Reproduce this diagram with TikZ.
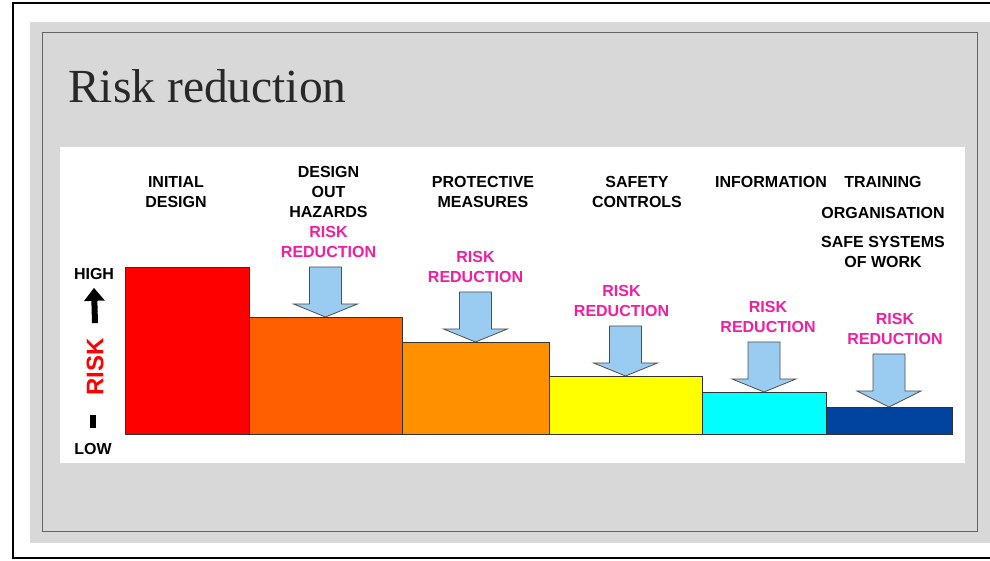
\documentclass[tikz,border=0pt]{standalone}
\usepackage{fontspec}
\setsansfont{Liberation Sans}
\newfontfamily\titlefont{Liberation Serif}
\usetikzlibrary{positioning,arrows.meta}

\definecolor{slidegray}{RGB}{216,216,216}
\definecolor{framegray}{RGB}{100,100,100}
\definecolor{titlegray}{RGB}{40,40,40}
\definecolor{barline}{RGB}{50,50,50}
\definecolor{barred}{RGB}{255,0,0}
\definecolor{barorange}{RGB}{255,95,0}
\definecolor{baramber}{RGB}{255,145,0}
\definecolor{baryellow}{RGB}{255,255,0}
\definecolor{barcyan}{RGB}{0,255,255}
\definecolor{barblue}{RGB}{0,68,160}
\definecolor{arrowblue}{RGB}{153,204,240}
\definecolor{arrowline}{RGB}{80,80,80}
\definecolor{riskpink}{RGB}{240,30,160}

\tikzset{
  bar/.style={draw=barline, line width=0.8pt, anchor=south west, inner sep=0pt, outer sep=0pt},
  stage/.style={font=\sffamily\bfseries\fontsize{16}{20}\selectfont, align=center, inner sep=0pt, anchor=north},
  reduction/.style={stage, text=riskpink, anchor=south},
  reducearrow/.style={draw=arrowline, fill=arrowblue, line width=0.8pt},
  axislabel/.style={font=\sffamily\bfseries\fontsize{16}{20}\selectfont, inner sep=0pt},
}

\begin{document}
\begin{tikzpicture}[x=1pt,y=1pt]
\useasboundingbox (0,0) rectangle (990,561);
\fill[white] (0,0) rectangle (990,561);
\draw[line width=1.5pt] (13,3) rectangle (1000,558);
\fill[slidegray] (30,18) rectangle (995,539);
\draw[framegray, line width=1pt] (42,29) rectangle (977,528);
\fill[white] (60,98) rectangle (965,414);

\node[anchor=base west, font=\titlefont\fontsize{47.5}{52}\selectfont, text=titlegray, inner sep=0pt] (title) at (68,458) {Risk reduction};

% bars
\node[bar, fill=barred, minimum width=124pt, minimum height=167pt] (initial) at (125,127) {};
\node[bar, fill=barorange, minimum width=153pt, minimum height=117pt] (hazards) at (initial.south east) {};
\node[bar, fill=baramber, minimum width=147pt, minimum height=92pt] (protect) at (hazards.south east) {};
\node[bar, fill=baryellow, minimum width=153pt, minimum height=58pt] (safety) at (protect.south east) {};
\node[bar, fill=barcyan, minimum width=124pt, minimum height=42pt] (info) at (safety.south east) {};
\node[bar, fill=barblue, minimum width=126pt, minimum height=27pt] (train) at (info.south east) {};

% arrows
\draw[reducearrow] (hazards.north) -- ++(-32,13) -- ++(16,0) -- ++(0,37) -- ++(32,0) -- ++(0,-37) -- ++(16,0) -- cycle;
\draw[reducearrow] (protect.north) -- ++(-32,13) -- ++(16,0) -- ++(0,37) -- ++(32,0) -- ++(0,-37) -- ++(16,0) -- cycle;
\draw[reducearrow] (safety.north) -- ++(-32,13) -- ++(16,0) -- ++(0,37) -- ++(32,0) -- ++(0,-37) -- ++(16,0) -- cycle;
\draw[reducearrow] (info.north) -- ++(-32,13) -- ++(16,0) -- ++(0,37) -- ++(32,0) -- ++(0,-37) -- ++(16,0) -- cycle;
\draw[reducearrow] (train.north) -- ++(-32,16) -- ++(16,0) -- ++(0,37) -- ++(32,0) -- ++(0,-37) -- ++(16,0) -- cycle;

\node[reduction] (hazardsrr) at ([xshift=3pt,yshift=59pt]hazards.north) {RISK\\REDUCTION};
\node[reduction] (protectrr) at ([yshift=59pt]protect.north) {RISK\\REDUCTION};
\node[reduction] (safetyrr) at ([xshift=-4pt,yshift=59pt]safety.north) {RISK\\REDUCTION};
\node[reduction] (inforr) at ([xshift=4pt,yshift=59pt]info.north) {RISK\\REDUCTION};
\node[reduction] (trainrr) at ([xshift=6pt,yshift=62pt]train.north) {RISK\\REDUCTION};

% stage labels
\node[stage] (initialtxt) at (176,385) {INITIAL\\DESIGN};
\node[stage, above=8.5pt of hazardsrr] (hazardstxt) {DESIGN\\OUT\\HAZARDS};
\node[stage] (protecttxt) at (483,385) {PROTECTIVE\\MEASURES};
\node[stage] (safetytxt) at (637,385) {SAFETY\\CONTROLS};
\node[stage] (infotxt) at (771,385) {INFORMATION};
\node[stage] (traintxt) at (883,385) {TRAINING};
\node[stage, below=19pt of traintxt] (orgtxt) {ORGANISATION};
\node[stage, below=18pt of orgtxt] (safesystxt) {SAFE SYSTEMS\\OF WORK};

% risk axis
\node[axislabel] (high) at (94,287) {HIGH};
\node[axislabel] (low) at (93,112) {LOW};
\node[font=\sffamily\bfseries\fontsize{24}{28}\selectfont, text=red, rotate=90, inner sep=0pt] (risk) at (95,194) {RISK};
\draw[line width=6pt, -{Triangle[width=20pt,length=13pt]}] ([yshift=15pt]risk.east) -- ([yshift=-8pt]high.south);
\draw[line width=6pt] ([yshift=15pt]low.north) -- ([yshift=28pt]low.north);
\end{tikzpicture}
\end{document}
